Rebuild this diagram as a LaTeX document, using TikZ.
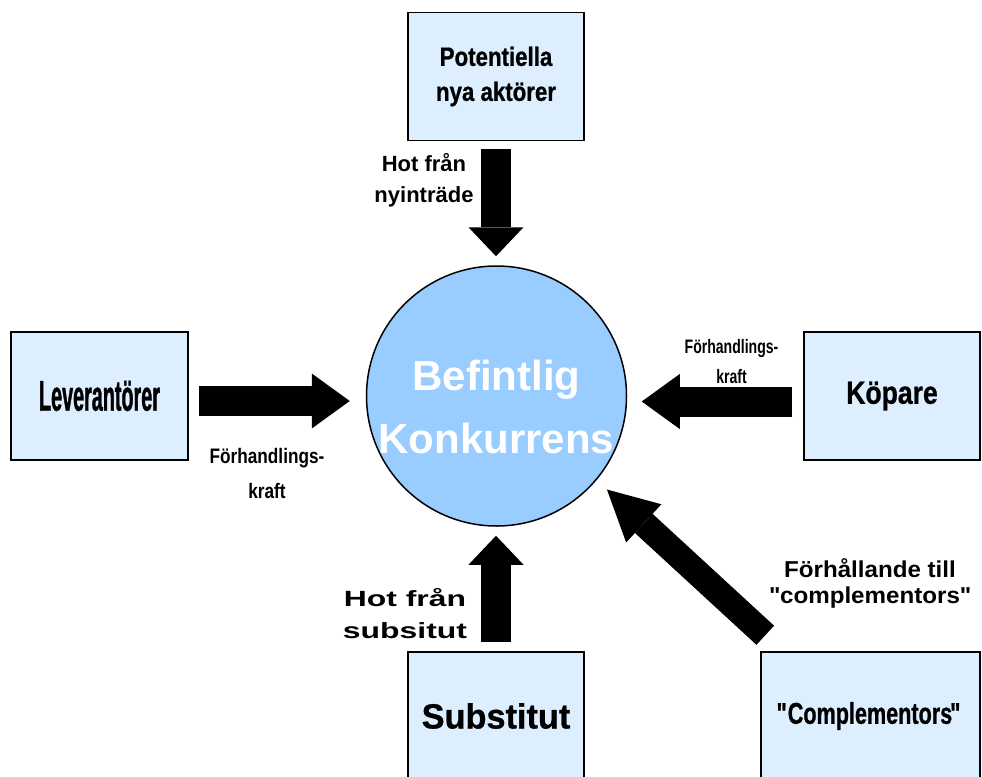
\documentclass[tikz,border=0pt]{standalone}
\usepackage{fontspec}
\setmainfont{Liberation Sans}
\usetikzlibrary{arrows.meta}

\definecolor{boxblue}{HTML}{DDEEFF}
\definecolor{circblue}{HTML}{99CCFF}

% size, baselineskip, horizontal stretch
\newcommand{\wfont}[3]{\fontsize{#1}{#2}\selectfont\bfseries\addfontfeature{FakeStretch=#3}}
% same, a bit heavier for the boxes
\newcommand{\hfont}[3]{\wfont{#1}{#2}{#3}\addfontfeature{FakeBold=0.8}}

\begin{document}
\begin{tikzpicture}[x=1pt,y=-1pt,
  force/.style={draw=black,line width=1.5pt,fill=boxblue,minimum width=176pt,
    minimum height=128pt,inner sep=0pt,align=center},
  lbl/.style={align=center,inner sep=0pt},
  fat/.style={line width=30pt,-{Triangle[width=55pt,length=#1,line width=0pt]}},
  fat/.default=29pt]

  \useasboundingbox (0,0) rectangle (982,776);
  \clip (0,0) rectangle (982,776);

  % Krafterna
  \node[force,font=\hfont{26.5}{35}{0.84}] (pot) at (496,76.5) {Potentiella\\nya aktörer};
  \node[force,minimum width=177pt,font=\hfont{43}{43}{0.46}] (lev) at (99.5,396) {Leverantörer};
  \node[force,font=\hfont{32}{32}{0.83}] (kop) at (892,396) {Köpare};
  \node[force,font=\hfont{35}{35}{0.98}] (sub) at (496,716) {Substitut};
  \node[force,minimum width=219pt,font=\hfont{30}{30}{0.72}] (comp) at (870.5,716)
    {\textquotedbl\kern-3pt Complementors\kern-2pt\textquotedbl};

  % Mitten
  \node[circle,draw=black,line width=1.5pt,fill=circblue,minimum size=260pt,inner sep=0pt] (circ) at (496.5,396) {};
  \node[lbl,text=white,font=\wfont{42}{63}{1}] (bef) at (496.5,407) {Befintlig\\Konkurrens};

  % Etiketter
  \node[lbl,font=\wfont{22}{31}{1}] (hotny) at (424,180) {Hot från\\nyinträde};
  \node[lbl,font=\wfont{22}{32}{1.45}] (hotsub) at (405,614) {Hot från\\subsitut};
  \node[lbl,font=\wfont{23}{26}{1.05}] (compl) at (870,583)
    {Förhållande till\\\textquotedbl{}complementors\textquotedbl};
  \node[lbl,font=\wfont{21}{35}{0.82}] (levkr) at (267,473) {Förhandlings-\\kraft};
  \node[lbl,font=\wfont{19.5}{30}{0.72}] (kopkr) at (731.5,362) {Förhandlings-\\kraft};

  % Pilar
  \coordinate (levout) at ([shift={(0,5)}]lev.east);
  \coordinate (kopin) at ([shift={(0,5.5)}]kop.west);

  \draw[fat,shorten <=8pt,shorten >=9pt] (pot.south) -- (pot.south |- circ.north);
  \draw[fat,shorten <=9pt,shorten >=9pt] (sub.north) -- (sub.north |- circ.south);
  \draw[fat=38pt,shorten <=10pt,shorten >=16pt] (levout) -- (levout -| circ.west);
  \draw[fat=38pt,shorten <=11pt,shorten >=14.5pt] (kopin) -- (kopin -| circ.east);
  \draw[line width=26pt,-{Triangle[width=52pt,length=50pt,line width=0pt]},shorten >=14pt]
    ([shift={(5,-16)}]comp.north west) -- (circ.-40);
\end{tikzpicture}
\end{document}
